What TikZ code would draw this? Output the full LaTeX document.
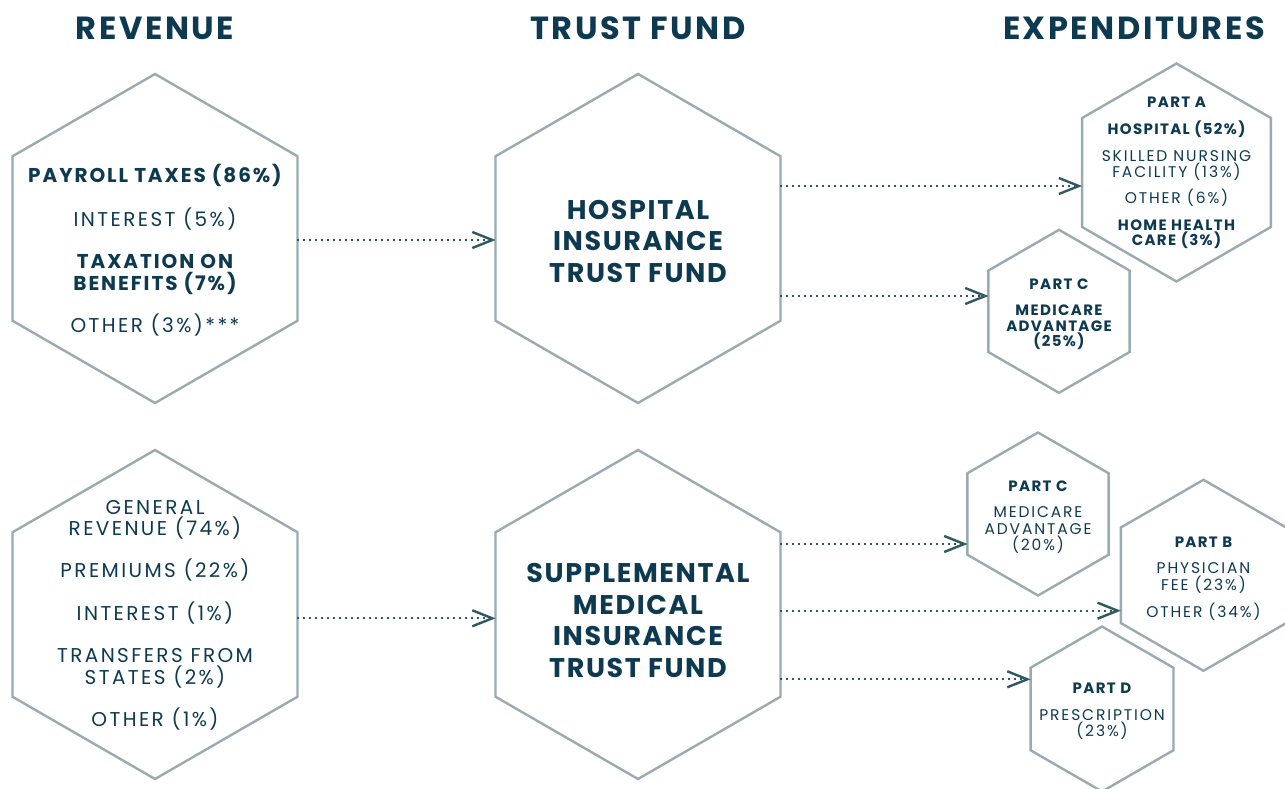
\documentclass[tikz,border=0pt]{standalone}
\usepackage{fontspec}
\setmainfont{Poppins}[BoldFont={Poppins Bold}]
\usetikzlibrary{shapes.geometric,arrows.meta}
\definecolor{navy}{HTML}{0E3A51}
\definecolor{hexline}{HTML}{9AABAE}
\definecolor{arrowc}{HTML}{2E5963}
\newcommand\tline[5]{\node[#4] (#1) at (#2,#3) {#5};}
\begin{document}
\begin{tikzpicture}[x=1pt,y=-1pt,
  hexa/.style={draw=hexline, line width=2.4pt, regular polygon, regular polygon sides=6,
    regular polygon rotate=30, inner sep=0pt, outer sep=0pt},
  head/.style={text=navy, font=\bfseries\fontsize{32}{34}\selectfont\addfontfeatures{LetterSpace=8}, anchor=base, inner sep=0pt},
  big/.style={text=navy, font=\bfseries\fontsize{27}{30}\selectfont\addfontfeatures{LetterSpace=6}, anchor=base, inner sep=0pt},
  rb/.style={text=navy, font=\bfseries\fontsize{20}{22}\selectfont\addfontfeatures{LetterSpace=9.5}, anchor=base, inner sep=0pt},
  rr/.style={text=navy, font=\fontsize{20}{22}\selectfont\addfontfeatures{LetterSpace=12}, anchor=base, inner sep=0pt},
  sb/.style={text=navy, font=\bfseries\fontsize{15}{16}\selectfont\addfontfeatures{LetterSpace=9}, anchor=base, inner sep=0pt},
  sr/.style={text=navy, font=\fontsize{15.5}{16}\selectfont\addfontfeatures{LetterSpace=12}, anchor=base, inner sep=0pt},
  arr/.style={draw=arrowc, line width=2pt, dash pattern=on 2pt off 4pt,
    -{Straight Barb[length=20pt,width=16pt,line width=2.4pt]}}]
\useasboundingbox (0,0) rectangle (1285,789);
% headers
\node[head] (hRev) at (155,40) {REVENUE};
\node[head] (hTF) at (638,40) {TRUST FUND};
\node[head] (hExp) at (1134,40) {EXPENDITURES};
% hexagons
\node[hexa, minimum size=329pt] (rev1) at (155,238.5) {};
\node[hexa, minimum size=329pt] (hi) at (638,238.5) {};
\node[hexa, minimum size=329pt] (rev2) at (155,614.5) {};
\node[hexa, minimum size=329pt] (smi) at (638,614.5) {};
\node[hexa, minimum size=218pt] (pa) at (1176.5,172.5) {};
\node[hexa, minimum size=163pt] (pc1) at (1059,311.3) {};
\node[hexa, minimum size=163pt] (pc2) at (1038,514) {};
\node[hexa, minimum size=191pt] (pb) at (1203.5,575.3) {};
\node[hexa, minimum size=165pt] (pd) at (1102,709) {};
% revenue 1
\tline{r1a}{155}{182.7}{rb}{PAYROLL TAXES (86\%)}
\tline{r1b}{155}{226.7}{rr}{INTEREST (5\%)}
\tline{r1c}{155}{268.3}{rb}{TAXATION ON}
\tline{r1d}{155}{290}{rb}{BENEFITS (7\%)}
\tline{r1e}{155}{332.3}{rr}{OTHER (3\%)***}
% revenue 2
\tline{r2a}{155}{514.3}{rr}{GENERAL}
\tline{r2b}{155}{535}{rr}{REVENUE (74\%)}
\tline{r2c}{155}{577.7}{rr}{PREMIUMS (22\%)}
\tline{r2d}{155}{620}{rr}{INTEREST (1\%)}
\tline{r2e}{155}{662.7}{rr}{TRANSFERS FROM}
\tline{r2f}{155}{684.3}{rr}{STATES (2\%)}
\tline{r2g}{155}{726.7}{rr}{OTHER (1\%)}
% HI
\tline{hia}{638}{219}{big}{HOSPITAL}
\tline{hib}{638}{250.7}{big}{INSURANCE}
\tline{hic}{638}{282.7}{big}{TRUST FUND}
% SMI
\tline{smia}{638}{582.3}{big}{SUPPLEMENTAL}
\tline{smib}{638}{614}{big}{MEDICAL}
\tline{smic}{638}{645.7}{big}{INSURANCE}
\tline{smid}{638}{677.3}{big}{TRUST FUND}
% Part A
\tline{paa}{1176.5}{107.3}{sb}{PART A}
\tline{pab}{1176.5}{134.3}{sb}{HOSPITAL (52\%)}
\tline{pac}{1176.5}{161.7}{sr}{SKILLED NURSING}
\tline{pad}{1176.5}{177.3}{sr}{FACILITY (13\%)}
\tline{pae}{1176.5}{203.3}{sr}{OTHER (6\%)}
\tline{paf}{1176.5}{230}{sb}{HOME HEALTH}
\tline{pag}{1176.5}{245.7}{sb}{CARE (3\%)}
% Part C top
\tline{pc1a}{1059}{289.3}{sb}{PART C}
\tline{pc1b}{1059}{315}{sb}{MEDICARE}
\tline{pc1c}{1059}{331}{sb}{ADVANTAGE}
\tline{pc1d}{1059}{346.7}{sb}{(25\%)}
% Part C bottom
\tline{pc2a}{1038}{491}{sb}{PART C}
\tline{pc2b}{1038}{517.7}{sr}{MEDICARE}
\tline{pc2c}{1038}{534}{sr}{ADVANTAGE}
\tline{pc2d}{1038}{550}{sr}{(20\%)}
% Part B
\tline{pba}{1203.5}{547.3}{sb}{PART B}
\tline{pbb}{1203.5}{573.3}{sr}{PHYSICIAN}
\tline{pbc}{1203.5}{590}{sr}{FEE (23\%)}
\tline{pbd}{1203.5}{617.3}{sr}{OTHER (34\%)}
% Part D
\tline{pda}{1102}{693.3}{sb}{PART D}
\tline{pdb}{1102}{720.7}{sr}{PRESCRIPTION}
\tline{pdc}{1102}{736.7}{sr}{(23\%)}
% arrow levels
\coordinate (y1) at (0,240);
\coordinate (y2) at (0,186);
\coordinate (y3) at (0,296);
\coordinate (y4) at (0,618.3);
\coordinate (y5) at (0,544);
\coordinate (y6) at (0,610.7);
\coordinate (y7) at (0,679.3);
\draw[arr] (rev1.east |- y1) -- (hi.west |- y1);
\draw[arr] (hi.east |- y2) -- (pa.west |- y2);
\draw[arr] (hi.east |- y3) -- (pc1.west |- y3);
\draw[arr] (rev2.east |- y4) -- (smi.west |- y4);
\draw[arr] (smi.east |- y5) -- (pc2.west |- y5);
\draw[arr] (smi.east |- y6) -- (pb.west |- y6);
\draw[arr] (smi.east |- y7) -- (pd.west |- y7);
\end{tikzpicture}
\end{document}
